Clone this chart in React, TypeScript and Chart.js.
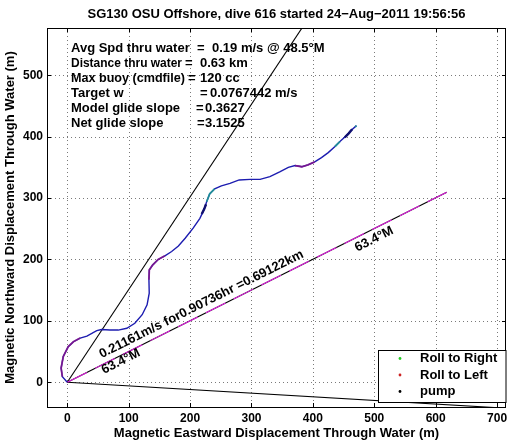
import React, { useEffect, useRef } from "react";
import { Chart, registerables } from "chart.js";

Chart.register(...registerables);

const FONT = "'Liberation Sans', Arial, Helvetica, sans-serif";

const TITLE = "SG130 OSU Offshore, dive 616 started 24\u2212Aug\u22122011 19:56:56";
const X_LABEL = "Magnetic Eastward Displacement Through Water (m)";
const Y_LABEL = "Magnetic Northward Displacement Through Water (m)";

const X_TICKS = [0, 100, 200, 300, 400, 500, 600, 700];
const Y_TICKS = [0, 100, 200, 300, 400, 500];
const X_RANGE = [-33, 714.5];
const Y_RANGE = [-40.3, 577];

// glider track (m east, m north)
const trackX = [0, -8, -10, -6.5, 1.6, 10, 21, 32, 48, 56, 69.5, 83, 97, 110, 122, 130, 133.5, 133, 133.6, 139, 148, 159, 170, 181, 192, 205, 216, 223, 227, 232, 240, 251, 265, 280, 298, 314, 330, 346, 360, 371, 382, 392, 403, 414, 425, 436, 444, 454, 463, 471];
const trackY = [0, 9, 23, 42, 58, 66, 72, 75, 84, 86, 85, 85, 88, 96, 110, 126, 145, 167, 183, 191, 200, 206, 213, 222, 234.5, 251, 267, 282, 294, 307, 315, 320, 324, 329.5, 330.5, 330.5, 335, 342.5, 350, 353, 351, 354, 359, 366, 374, 384, 392, 401, 411, 418];

// roll to left segments (null = gap)
const rollLeftX = [-8, -10, -6.5, 1.6, 10, 21, null, 133, 133.6, 139, 148, 159, null, 371, 382, 392, 403];
const rollLeftY = [9, 23, 42, 58, 66, 72, null, 167, 183, 191, 200, 206, null, 353, 351, 354, 359];
// roll to right segments
const rollRightX = [227, 232, 240, null, 436, 444, null, 469, 471];
const rollRightY = [294, 307, 315, null, 384, 392, null, 416, 418];
// pump segments
const pumpX = [219, 223, 226, null, 452, 458, 464];
const pumpY = [274, 282, 290, null, 399, 405, 412];

// reference lines from the dive start
const steepLineX = [0, 420];
const steepLineY = [0, 634];
const lowLineX = [0, 760];
const lowLineY = [0, -45];
const netLineX = [0, 618];
const netLineY = [0, 309.5];

const INFO_LABELS = ["Avg Spd thru water", "Distance thru water", "Max buoy (cmdfile)", "Target w", "Model glide slope", "Net glide slope"];
const INFO_VALUES = ["0.19 m/s @ 48.5\u00B0M", "0.63 km", "120 cc", "0.0767442 m/s", "0.3627", "3.1525"];

const NET_LABEL = "0.21161m/s for0.90736hr =0.69122km";
const HEADING_LABEL = "63.4\u00B0M";
// label anchors (data units, baseline-left)
const netLabelAnchor = [56, 39];
const headingAnchor1 = [59.8, 13.5];
const headingAnchor2 = [472.3, 212.7];

const LEGEND_LABELS = ["Roll to Right", "Roll to Left", "pump"];
const LEGEND_COLORS = ["#22cc22", "#cc2222", "#000000"];

const pts = (xs: (number | null)[], ys: (number | null)[]) =>
  xs.map((x, i) => ({ x: x as any, y: ys[i] as any }));

const decor = {
  id: "decor",
  beforeDatasetsDraw(chart: any) {
    const { ctx, chartArea: a, scales } = chart;
    ctx.save();
    ctx.strokeStyle = "#7a7a7a";
    ctx.lineWidth = 1;
    ctx.setLineDash([1, 3]);
    ctx.beginPath();
    X_TICKS.forEach((v) => {
      const p = Math.round(scales.x.getPixelForValue(v)) + 0.5;
      ctx.moveTo(p, a.top);
      ctx.lineTo(p, a.bottom);
    });
    Y_TICKS.forEach((v) => {
      const p = Math.round(scales.y.getPixelForValue(v)) + 0.5;
      ctx.moveTo(a.left, p);
      ctx.lineTo(a.right, p);
    });
    ctx.stroke();
    ctx.restore();
  },
  afterDraw(chart: any) {
    const { ctx, chartArea: a, scales } = chart;
    const xs = scales.x;
    const ys = scales.y;
    ctx.save();
    // frame
    ctx.strokeStyle = "#000";
    ctx.lineWidth = 1;
    ctx.setLineDash([]);
    ctx.strokeRect(a.left + 0.5, a.top + 0.5, a.right - a.left - 1, a.bottom - a.top);
    // inner ticks
    ctx.beginPath();
    X_TICKS.forEach((v) => {
      const p = Math.round(xs.getPixelForValue(v)) + 0.5;
      ctx.moveTo(p, a.bottom);
      ctx.lineTo(p, a.bottom - 4);
      ctx.moveTo(p, a.top);
      ctx.lineTo(p, a.top + 4);
    });
    Y_TICKS.forEach((v) => {
      const p = Math.round(ys.getPixelForValue(v)) + 0.5;
      ctx.moveTo(a.left, p);
      ctx.lineTo(a.left + 4, p);
      ctx.moveTo(a.right, p);
      ctx.lineTo(a.right - 4, p);
    });
    ctx.stroke();

    ctx.fillStyle = "#000";
    ctx.font = `bold 13px ${FONT}`;
    // title
    ctx.textAlign = "center";
    ctx.textBaseline = "middle";
    ctx.fillText(TITLE, (a.left + a.right) / 2, 14);

    // info block
    ctx.textAlign = "left";
    const eqX = [197, 185, 188, 200, 196, 197];
    const valX = [212, 200, 200, 210, 205, 205];
    INFO_LABELS.forEach((lab, i) => {
      const yy = 48 + i * 15.1;
      ctx.fillText(lab, 71, yy, eqX[i] - 74);
      ctx.fillText("=", eqX[i], yy);
      ctx.fillText(INFO_VALUES[i], valX[i], yy);
    });

    // rotated labels along the net track line
    const p0x = xs.getPixelForValue(netLineX[0]);
    const p0y = ys.getPixelForValue(netLineY[0]);
    const p1x = xs.getPixelForValue(netLineX[1]);
    const p1y = ys.getPixelForValue(netLineY[1]);
    const ang = Math.atan2(p1y - p0y, p1x - p0x);
    const drawRot = (txt: string, anc: number[]) => {
      ctx.save();
      ctx.translate(xs.getPixelForValue(anc[0]), ys.getPixelForValue(anc[1]));
      ctx.rotate(ang);
      ctx.textAlign = "left";
      ctx.textBaseline = "alphabetic";
      ctx.fillText(txt, 0, 0);
      ctx.restore();
    };
    drawRot(NET_LABEL, netLabelAnchor);
    drawRot(HEADING_LABEL, headingAnchor1);
    drawRot(HEADING_LABEL, headingAnchor2);

    // legend
    const lx = 378.5, ly = 350.5, lw = a.right - 378.5, lh = 52;
    ctx.fillStyle = "#fff";
    ctx.fillRect(lx, ly, lw, lh);
    ctx.strokeStyle = "#000";
    ctx.strokeRect(lx, ly, lw, lh);
    LEGEND_LABELS.forEach((lab, i) => {
      const yy = 358.5 + i * 16.5;
      ctx.fillStyle = LEGEND_COLORS[i];
      ctx.beginPath();
      ctx.arc(400, yy, 1.4, 0, Math.PI * 2);
      ctx.fill();
      ctx.fillStyle = "#000";
      ctx.textAlign = "left";
      ctx.textBaseline = "middle";
      ctx.fillText(lab, 420, yy);
    });
    ctx.restore();
  },
};

export default function App() {
  const ref = useRef<HTMLCanvasElement>(null);
  useEffect(() => {
    if (!ref.current) return;
    const tickFont = { family: FONT, size: 12, weight: "bold" as const };
    const titleFont = { family: FONT, size: 13, weight: "bold" as const };
    const line = (data: any[], color: string, width: number, order: number, extra: any = {}) => ({
      data,
      order,
      showLine: true,
      borderColor: color,
      backgroundColor: color,
      borderWidth: width,
      pointRadius: 0,
      spanGaps: false,
      tension: 0,
      ...extra,
    });
    // higher order = drawn first (underneath)
    const chart = new Chart(ref.current, {
      type: "scatter",
      data: {
        datasets: [
          line(pts(steepLineX, steepLineY), "#000", 1.1, 8),
          line(pts(lowLineX, lowLineY), "#000", 1.1, 7),
          line(pts(netLineX, netLineY), "#000", 1.1, 6),
          line(pts(netLineX, netLineY), "#e020e0", 1.1, 5, { borderDash: [22, 9] }),
          line(pts(trackX, trackY), "#1c1cb0", 1.4, 4),
          line(pts(rollLeftX, rollLeftY), "rgba(130,20,140,0.85)", 1.8, 3),
          line(pts(rollRightX, rollRightY), "rgba(30,150,150,0.9)", 1.8, 2),
          line(pts(pumpX, pumpY), "#101070", 2.4, 1),
        ],
      },
      options: {
        animation: false,
        responsive: false,
        layout: { padding: { top: 28, right: 8, left: 0, bottom: 0 } },
        plugins: { legend: { display: false }, tooltip: { enabled: false }, title: { display: false } },
        scales: {
          x: {
            type: "linear",
            min: X_RANGE[0],
            max: X_RANGE[1],
            afterFit: (s: any) => { s.height = 35; },
            afterBuildTicks: (s: any) => { s.ticks = X_TICKS.map((v) => ({ value: v })); },
            ticks: { font: tickFont, color: "#000", padding: 4, maxRotation: 0, autoSkip: false, callback: (v: any) => String(v) },
            grid: { display: false, drawTicks: false },
            border: { display: false },
            title: { display: true, text: X_LABEL, font: titleFont, color: "#000", padding: { top: 0, bottom: 1 } },
          },
          y: {
            type: "linear",
            min: Y_RANGE[0],
            max: Y_RANGE[1],
            afterFit: (s: any) => { s.width = 47; },
            afterBuildTicks: (s: any) => { s.ticks = Y_TICKS.map((v) => ({ value: v })); },
            ticks: { font: tickFont, color: "#000", padding: 4, autoSkip: false, callback: (v: any) => String(v) },
            grid: { display: false, drawTicks: false },
            border: { display: false },
            title: { display: true, text: Y_LABEL, font: titleFont, color: "#000", padding: { top: 3, bottom: 0 } },
          },
        },
      },
      plugins: [decor],
    });
    return () => chart.destroy();
  }, []);
  return (
    <div style={{ position: "fixed", left: 0, top: 0, width: 514, height: 442, background: "#fff" }}>
      <canvas ref={ref} width={514} height={442} style={{ display: "block" }} />
    </div>
  );
}
